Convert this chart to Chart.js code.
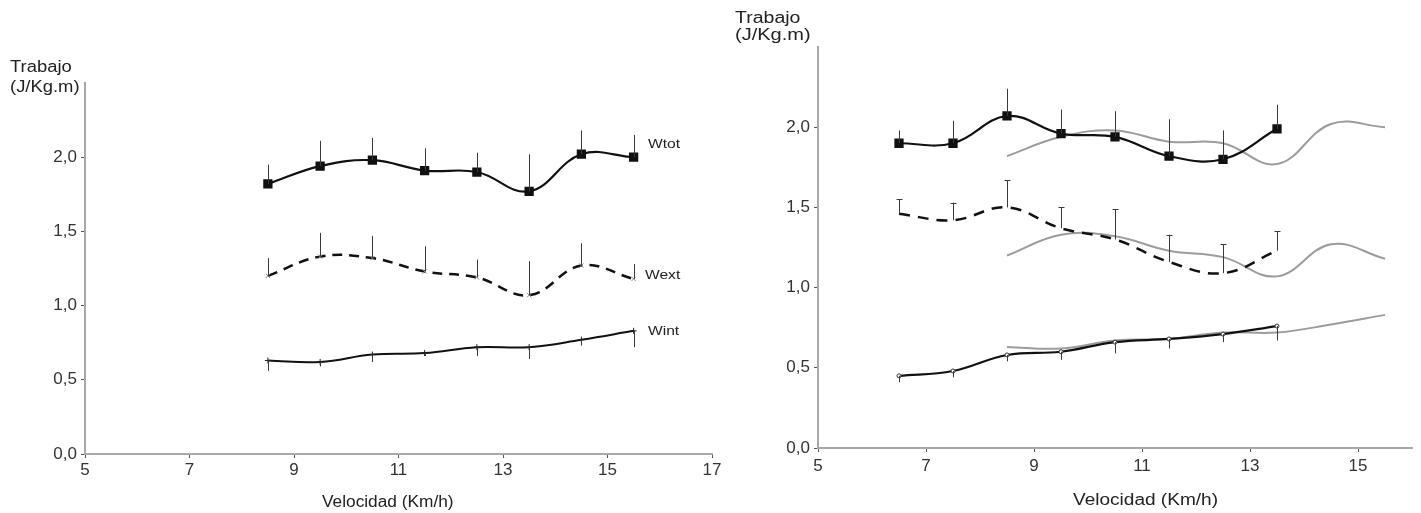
<!DOCTYPE html>
<html>
<head>
<meta charset="utf-8">
<script src="https://cdn.jsdelivr.net/npm/chart.js@4.4.1/dist/chart.umd.min.js"></script>
<style>
  html, body { margin: 0; padding: 0; background: #ffffff; }
  body { width: 1421px; height: 513px; position: relative; overflow: hidden; font-family: "Liberation Sans", Arial, sans-serif; color: #222; }
  .box { position: absolute; top: 0; height: 513px; }
  .txt { position: absolute; white-space: nowrap; transform-origin: left center; line-height: 1; }
</style>
</head>
<body>
<div class="box" id="boxL" style="left:0; width:730px;"><canvas id="cL"></canvas></div>
<div class="box" id="boxR" style="left:730px; width:691px;"><canvas id="cR"></canvas></div>

<div class="txt" style="left:10px; top:59px; font-size:16px; transform:scaleX(1.15);">Trabajo</div>
<div class="txt" style="left:10px; top:79px; font-size:16px; transform:scaleX(1.15);">(J/Kg.m)</div>
<div class="txt" style="left:322px; top:494px; font-size:16px; transform:scaleX(1.08);">Velocidad (Km/h)</div>
<div class="txt" style="left:648px; top:137px; font-size:13px; transform:scaleX(1.2);">Wtot</div>
<div class="txt" style="left:645px; top:268px; font-size:13px; transform:scaleX(1.2);">Wext</div>
<div class="txt" style="left:648px; top:324px; font-size:13px; transform:scaleX(1.2);">Wint</div>

<div class="txt" style="left:735px; top:10px; font-size:16px; transform:scaleX(1.22);">Trabajo</div>
<div class="txt" style="left:735px; top:27px; font-size:16px; transform:scaleX(1.25);">(J/Kg.m)</div>
<div class="txt" style="left:1073px; top:492px; font-size:16px; transform:scaleX(1.19);">Velocidad (Km/h)</div>

<script>
// ---------- Data ----------
// Left panel (speed 8.5 .. 15.5 km/h)
const speedLeft   = [8.5, 9.5, 10.5, 11.5, 12.5, 13.5, 14.5, 15.5];
const wtotLeft    = [1.82, 1.94, 1.98, 1.91, 1.90, 1.77, 2.02, 2.00];
const wtotLeftErr = [1.95, 2.11, 2.13, 2.06, 2.03, 2.02, 2.18, 2.15];
const wextLeft    = [1.20, 1.33, 1.32, 1.23, 1.19, 1.07, 1.27, 1.18];
const wextLeftErr = [1.32, 1.49, 1.47, 1.40, 1.31, 1.30, 1.42, 1.28];
const wintLeft    = [0.63, 0.62, 0.67, 0.68, 0.72, 0.72, 0.77, 0.83];
const wintLeftErr = [0.56, 0.59, 0.62, 0.66, 0.66, 0.64, 0.73, 0.72];

// Right panel (speed 6.5 .. 13.5 km/h)
const speedRight   = [6.5, 7.5, 8.5, 9.5, 10.5, 11.5, 12.5, 13.5];
const wtotRight    = [1.90, 1.90, 2.07, 1.96, 1.94, 1.82, 1.80, 1.99];
const wtotRightErr = [1.98, 2.04, 2.24, 2.11, 2.10, 2.05, 1.98, 2.14];
const wextRight    = [1.46, 1.42, 1.50, 1.37, 1.30, 1.16, 1.09, 1.23];
const wextRightErr = [1.55, 1.53, 1.67, 1.50, 1.49, 1.33, 1.27, 1.35];
const wintRight    = [0.45, 0.48, 0.58, 0.60, 0.66, 0.68, 0.71, 0.76];
const wintRightErr = [0.41, 0.44, 0.54, 0.55, 0.59, 0.62, 0.66, 0.67];

// Tick labels
const yTicks      = [0, 0.5, 1.0, 1.5, 2.0];
const xTicksLeft  = [5, 7, 9, 11, 13, 15, 17];
const xTicksRight = [5, 7, 9, 11, 13, 15];

// ---------- Helpers ----------
const pts = (xs, ys) => xs.map((x, i) => ({ x: x, y: ys[i] }));

const errorBarPlugin = {
  id: 'errorBars',
  afterDatasetsDraw(chart) {
    const ctx = chart.ctx;
    const xs = chart.scales.x, ys = chart.scales.y;
    chart.data.datasets.forEach(ds => {
      if (!ds.errorTo) return;
      ctx.save();
      ctx.strokeStyle = ds.errorColor || '#3a3a3a';
      ctx.lineWidth = 1;
      ctx.setLineDash([]);
      ds.data.forEach((p, j) => {
        const x = Math.round(xs.getPixelForValue(p.x)) + 0.5;
        const y0 = ys.getPixelForValue(p.y);
        const y1 = ys.getPixelForValue(ds.errorTo[j]);
        ctx.beginPath();
        ctx.moveTo(x, y0);
        ctx.lineTo(x, y1);
        if (ds.errorCap) {
          const yc = Math.round(y1) + 0.5;
          ctx.moveTo(x - 3, yc);
          ctx.lineTo(x + 3, yc);
        }
        ctx.stroke();
      });
      ctx.restore();
    });
  }
};

function makeOptions(xMin, xMax, xTickVals, pad, xAxisH, yAxisW, xTickPad) {
  const fontT = { family: '"Liberation Sans", Arial, sans-serif', size: 17 };
  return {
    responsive: true,
    maintainAspectRatio: false,
    animation: false,
    layout: { padding: pad },
    plugins: { legend: { display: false }, tooltip: { enabled: false }, title: { display: false } },
    elements: { line: { tension: 0.4 } },
    scales: {
      x: {
        type: 'linear', min: xMin, max: xMax,
        afterBuildTicks: s => { s.ticks = xTickVals.map(v => ({ value: v })); },
        afterFit: s => { s.height = xAxisH; },
        ticks: { color: '#333', font: fontT, padding: xTickPad, maxRotation: 0, autoSkip: false,
                 callback: v => String(v) },
        grid: { display: true, drawOnChartArea: false, tickLength: 4, color: '#555', lineWidth: 1 },
        border: { display: true, color: '#a8a8a8', width: 2 }
      },
      y: {
        type: 'linear', min: 0, max: 2.5,
        afterBuildTicks: s => { s.ticks = yTicks.map(v => ({ value: v })); },
        afterFit: s => { s.width = yAxisW; },
        ticks: { color: '#333', font: fontT, padding: 4, autoSkip: false,
                 callback: v => Number(v).toFixed(1).replace('.', ',') },
        grid: { display: true, drawOnChartArea: false, tickLength: 4, color: '#555', lineWidth: 1 },
        border: { display: true, color: '#a8a8a8', width: 2 }
      }
    }
  };
}

// ---------- Left chart ----------
new Chart(document.getElementById('cL'), {
  type: 'line',
  data: {
    datasets: [
      { label: 'Wtot', data: pts(speedLeft, wtotLeft), errorTo: wtotLeftErr,
        borderColor: '#111', borderWidth: 2.2, pointStyle: 'rect', pointRadius: 5,
        pointBackgroundColor: '#111', pointBorderColor: '#111', fill: false },
      { label: 'Wext', data: pts(speedLeft, wextLeft), errorTo: wextLeftErr,
        borderColor: '#111', borderWidth: 2.5, borderDash: [10, 7], pointStyle: 'crossRot', pointRadius: 3,
        pointBorderColor: '#888', pointBorderWidth: 1, fill: false },
      { label: 'Wint', data: pts(speedLeft, wintLeft), errorTo: wintLeftErr,
        borderColor: '#111', borderWidth: 2, pointStyle: 'cross', pointRadius: 3,
        pointBorderColor: '#222', pointBorderWidth: 1, fill: false }
    ]
  },
  options: makeOptions(5, 17, xTicksLeft, { left: 0, top: 83, right: 18, bottom: 0 }, 59, 85, 2),
  plugins: [errorBarPlugin]
});

// ---------- Right chart ----------
new Chart(document.getElementById('cR'), {
  type: 'line',
  data: {
    datasets: [
      { label: 'Wtot', data: pts(speedRight, wtotRight), errorTo: wtotRightErr,
        borderColor: '#111', borderWidth: 2.2, pointStyle: 'rect', pointRadius: 5,
        pointBackgroundColor: '#111', pointBorderColor: '#111', fill: false },
      { label: 'Wext', data: pts(speedRight, wextRight), errorTo: wextRightErr, errorCap: true,
        borderColor: '#111', borderWidth: 2.5, borderDash: [11, 8], pointRadius: 0, fill: false },
      { label: 'Wint', data: pts(speedRight, wintRight), errorTo: wintRightErr,
        borderColor: '#111', borderWidth: 2.2, pointStyle: 'circle', pointRadius: 2,
        pointBackgroundColor: '#fff', pointBorderColor: '#333', pointBorderWidth: 1, fill: false },
      { label: 'Wtot ref', data: pts(speedLeft, wtotLeft),
        borderColor: '#9c9c9c', borderWidth: 2, pointRadius: 0, fill: false },
      { label: 'Wext ref', data: pts(speedLeft, wextLeft),
        borderColor: '#9c9c9c', borderWidth: 2, pointRadius: 0, fill: false },
      { label: 'Wint ref', data: pts(speedLeft, wintLeft),
        borderColor: '#9c9c9c', borderWidth: 2, pointRadius: 0, fill: false }
    ]
  },
  options: makeOptions(5, 16, xTicksRight, { left: 0, top: 47, right: 9, bottom: 0 }, 65, 88, 4),
  plugins: [errorBarPlugin]
});
</script>
</body>
</html>
